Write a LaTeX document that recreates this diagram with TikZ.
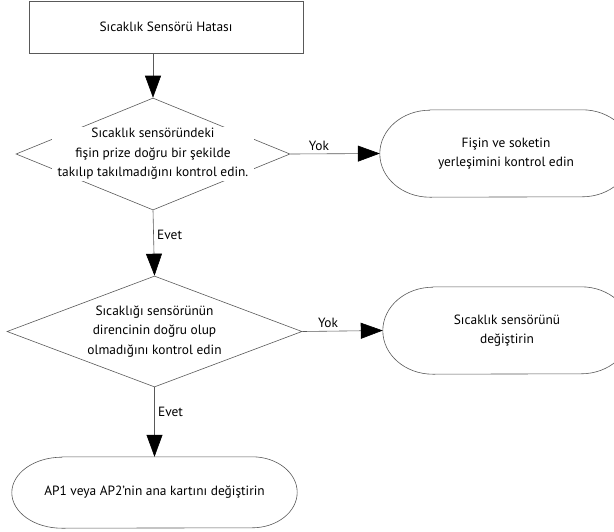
\documentclass[tikz,border=0pt]{standalone}
\usepackage{fontspec}
\setmainfont{PT Sans}
\usetikzlibrary{arrows.meta,shapes.geometric,positioning}

\begin{document}
\begin{tikzpicture}[
    x=1pt, y=-1pt,
    font=\fontsize{13.4}{19.5}\selectfont,
    line/.style={draw=black!65, line width=0.6pt},
    box/.style={line, minimum width=274pt, minimum height=52pt},
    cond/.style={diamond, line, inner sep=0pt},
    condtext/.style={fill=white, align=center, inner sep=1pt},
    term/.style={inner sep=0pt, align=center},
    arr/.style={line, -{Triangle[length=22pt, width=16pt, black]}},
    lbl/.style={font=\fontsize{13.4}{15}\selectfont}
]
\useasboundingbox (0,0) rectangle (614,531);

\node[box] (start) at (166,27) {Sıcaklık Sensörü Hatası};

% first check: plug
\node[cond, minimum width=274pt, minimum height=112pt] (d1) at (153,154) {};
\node[condtext, inner xsep=6pt] (t1) at (d1) {Sıcaklık sensöründeki\\fişin prize doğru bir şekilde\\takılıp takılmadığını kontrol edin.};
\node[term, minimum width=252pt, minimum height=87pt] (s1) at (506,153.5) {Fişin ve soketin\\yerleşimini kontrol edin};

% second check: resistance
\node[cond, minimum width=295pt, minimum height=111pt] (d2) at (154.5,331.5) {};
\node[condtext] (t2) at (d2) {Sıcaklığı sensörünün\\direncinin doğru olup\\olmadığını kontrol edin};
\node[term, minimum width=248pt, minimum height=87pt] (s2) at (507,330.5) {Sıcaklık sensörünü\\değiştirin};

\node[term, minimum width=285pt, minimum height=71pt] (end) at (154.5,492.5) {AP1 veya AP2'nin ana kartını değiştirin};

% terminal outlines with elliptic ends
\draw[line] ([xshift=50pt]s1.north west) -- ([xshift=-50pt]s1.north east)
    arc[start angle=90, end angle=-90, x radius=50pt, y radius=43.5pt]
    -- ([xshift=50pt]s1.south west)
    arc[start angle=-90, end angle=-270, x radius=50pt, y radius=43.5pt] -- cycle;
\draw[line] ([xshift=50pt]s2.north west) -- ([xshift=-50pt]s2.north east)
    arc[start angle=90, end angle=-90, x radius=50pt, y radius=43.5pt]
    -- ([xshift=50pt]s2.south west)
    arc[start angle=-90, end angle=-270, x radius=50pt, y radius=43.5pt] -- cycle;
\draw[line] ([xshift=50pt]end.north west) -- ([xshift=-45pt]end.north east)
    arc[start angle=90, end angle=-90, x radius=45pt, y radius=35.5pt]
    -- ([xshift=50pt]end.south west)
    arc[start angle=-90, end angle=-270, x radius=50pt, y radius=35.5pt] -- cycle;

\draw[arr] (d1.north |- start.south) -- (d1.north);
\draw[arr] (d1.east) -- node[lbl, above, pos=0.32] {Yok} (s1.west);
\draw[arr] (d1.south) -- node[lbl, right, pos=0.38] {Evet} (d2.north);
\draw[arr] (d2.east) -- node[lbl, above, pos=0.32] {Yok} (s2.west);
\draw[arr] (d2.south) -- node[lbl, right, pos=0.36] {Evet} (end.north);
\end{tikzpicture}
\end{document}
